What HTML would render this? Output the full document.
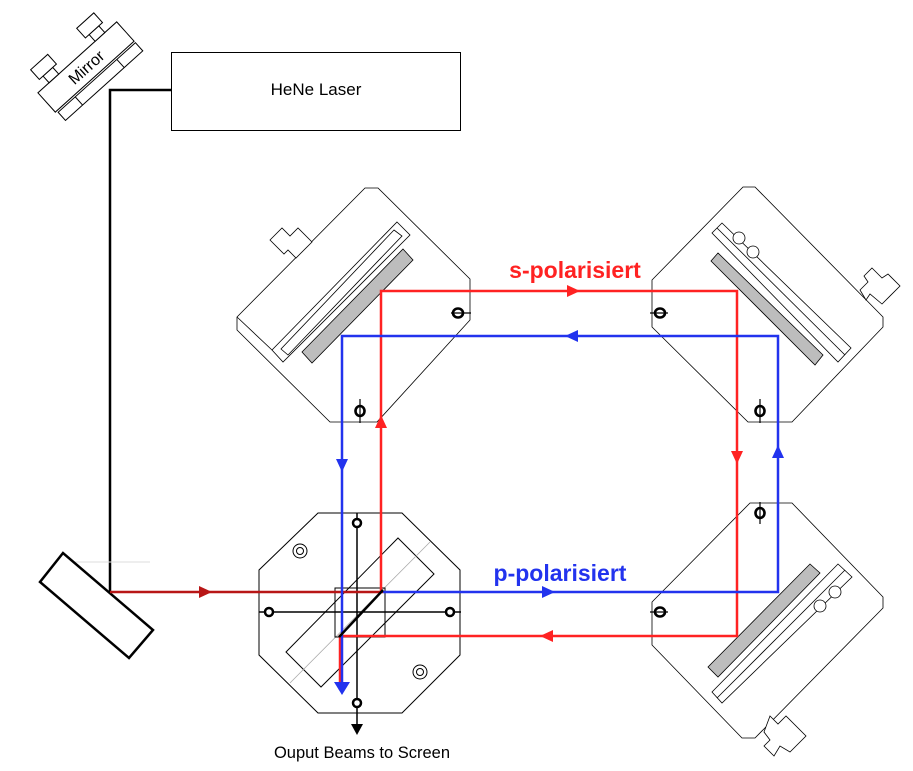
<!DOCTYPE html>
<html><head><style>html,body{margin:0;padding:0;background:#fff}svg{display:block}</style></head><body>
<svg width="913" height="771" viewBox="0 0 913 771" xmlns="http://www.w3.org/2000/svg" font-family="Liberation Sans, sans-serif">
<!-- top-left small mirror -->
<g transform="rotate(-42 86 67)" fill="#fff" stroke="#000" stroke-width="1">
 <rect x="33" y="54" width="106" height="26"/>
 <rect x="35" y="82" width="104" height="11"/>
 <line x1="58" y1="82" x2="58" y2="93"/><line x1="114" y1="82" x2="114" y2="93"/>
 <rect x="48" y="45" width="13" height="9"/><rect x="43" y="32" width="23" height="13"/>
 <rect x="110" y="45" width="13" height="9"/><rect x="105" y="32" width="23" height="13"/>
 <text x="86" y="73" font-size="16" text-anchor="middle" stroke="none" fill="#000">Mirror</text>
</g>
<!-- laser -->
<rect x="171.5" y="52.5" width="289" height="78" fill="#fff" stroke="#000"/>
<text x="316" y="95" font-size="17" text-anchor="middle">HeNe Laser</text>
<polyline points="171,90 110,90 110,592" fill="none" stroke="#000" stroke-width="2.5"/>
<line x1="75" y1="562" x2="150" y2="562" stroke="#ddd"/>
<!-- left mirror -->
<polygon points="63,553 40,582 129,658 153,630" fill="#fff" stroke="#000" stroke-width="2.5"/>
<!-- top-left mount -->
<g fill="#fff" stroke="#000" stroke-width="0.8">
 <polygon points="365,188 378,188 470,279 470,320 377,422 330,422 237,330 237,317"/>
 <line x1="237" y1="317" x2="272" y2="350"/>
 <polygon points="397,222 410,235 283,362 272,350"/>
 <polygon points="394,230 402,236 288,355 281,349" fill="none"/>
 <polygon points="270,240 282,228 290,236 298,228 312,242 296,258 288,250 284,254"/>
 <polygon points="403,249 413,260 312,363 302,352" fill="#bdbdbd"/>
</g>
<!-- top-right mount -->
<g fill="#fff" stroke="#000" stroke-width="0.8">
 <polygon points="743,187 755,187 883,317 883,327 792,422 748,422 652,327 652,280"/>
 <polygon points="712,233 722,223 851,348 838,362"/>
 <line x1="717" y1="228" x2="845" y2="355"/>
 <circle cx="739" cy="238" r="6"/><circle cx="753" cy="252" r="6"/>
 <polygon points="718,253 711,261 815,365 823,355" fill="#bdbdbd"/>
 <polygon points="872,268 882,278 888,274 900,286 882,304 870,294 866,300 860,290 868,282 864,276"/>
</g>
<!-- bottom-right mount -->
<g fill="#fff" stroke="#000" stroke-width="0.8">
 <polygon points="750,503 792,503 883,597 883,608 755,738 742,738 652,645 652,602"/>
 <polygon points="838,564 852,577 722,703 712,692"/>
 <line x1="845" y1="570" x2="717" y2="698"/>
 <circle cx="835" cy="592" r="6"/><circle cx="820" cy="606" r="6"/>
 <polygon points="810,564 820,573 718,677 708,667" fill="#bdbdbd"/>
 <polygon points="770,716 778,724 786,716 806,736 790,752 780,746 774,756 764,746 770,740 764,732"/>
</g>
<!-- BS mount -->
<g fill="#fff" stroke="#000" stroke-width="1">
 <polygon points="318,513 402,513 460,570 460,655 402,713 318,713 259,655 259,570"/>
 <circle cx="300" cy="551" r="7"/><circle cx="300" cy="551" r="3.5"/>
 <circle cx="420" cy="672" r="7"/><circle cx="420" cy="672" r="3.5"/>
 <polygon points="398,538 434,574 321,687 286,652"/>
 <line x1="430" y1="542" x2="290" y2="683" stroke="#aaa" stroke-width="0.8"/>
 <rect x="335" y="588" width="50" height="49" fill="none"/>
 <line x1="357" y1="513" x2="357" y2="727" stroke-width="1.5"/>
 <line x1="259" y1="612" x2="461" y2="612" stroke-width="1.5"/>
</g>
<polygon points="351,724 363,724 357,735" fill="#000"/>
<g fill="#fff" stroke="#000" stroke-width="2.5">
 <circle cx="357" cy="523" r="4"/><circle cx="269" cy="612" r="4"/><circle cx="450" cy="612" r="4"/><circle cx="357" cy="703" r="4"/>
</g>
<!-- beams -->
<line x1="110" y1="592" x2="383" y2="592" stroke="#b81616" stroke-width="2.5"/>
<polygon points="199,586 212,592 199,598" fill="#b81616"/>
<g fill="none" stroke-width="2.5">
 <polyline points="381,592 381,291 737,291 737,636 340,636 340,690" stroke="#ff2222"/>
 <polyline points="383,592 778,592 778,336 342,336 342,692" stroke="#2233ee"/>
</g>
<line x1="339" y1="637" x2="383" y2="590" stroke="#000" stroke-width="2.5"/>
<g fill="#ff2222">
 <polygon points="375,428 381,415 387,428"/>
 <polygon points="567,285 580,291 567,297"/>
 <polygon points="731,451 737,464 743,451"/>
 <polygon points="553,630 540,636 553,642"/>
</g>
<g fill="#2233ee">
 <polygon points="772,458 778,445 784,458"/>
 <polygon points="578,330 565,336 578,342"/>
 <polygon points="336,459 342,472 348,459"/>
 <polygon points="542,586 555,592 542,598"/>
 <polygon points="334,682 342,695 350,682"/>
</g>
<!-- phi markers -->
<g fill="none" stroke="#000" stroke-width="2.6">
 <ellipse cx="458" cy="313" rx="5" ry="4.5"/><line x1="451" y1="313" x2="471" y2="313" stroke-width="1.2"/>
 <ellipse cx="660" cy="313" rx="5" ry="4.5"/><line x1="650" y1="313" x2="668" y2="313" stroke-width="1.2"/>
 <ellipse cx="660" cy="612" rx="5" ry="4.5"/><line x1="650" y1="612" x2="668" y2="612" stroke-width="1.2"/>
 <ellipse cx="360" cy="411" rx="4.5" ry="5"/><line x1="360" y1="399" x2="360" y2="423" stroke-width="1.2"/>
 <ellipse cx="760" cy="411" rx="4.5" ry="5"/><line x1="760" y1="399" x2="760" y2="423" stroke-width="1.2"/>
 <ellipse cx="760" cy="513" rx="4.5" ry="5"/><line x1="760" y1="502" x2="760" y2="524" stroke-width="1.2"/>
</g>
<text x="575" y="278" font-size="23" font-weight="bold" fill="#ff2222" text-anchor="middle">s-polarisiert</text>
<text x="560" y="581" font-size="23" font-weight="bold" fill="#2233ee" text-anchor="middle">p-polarisiert</text>
<text x="362" y="758" font-size="16.5" text-anchor="middle">Ouput Beams to Screen</text>
</svg>
</body></html>
